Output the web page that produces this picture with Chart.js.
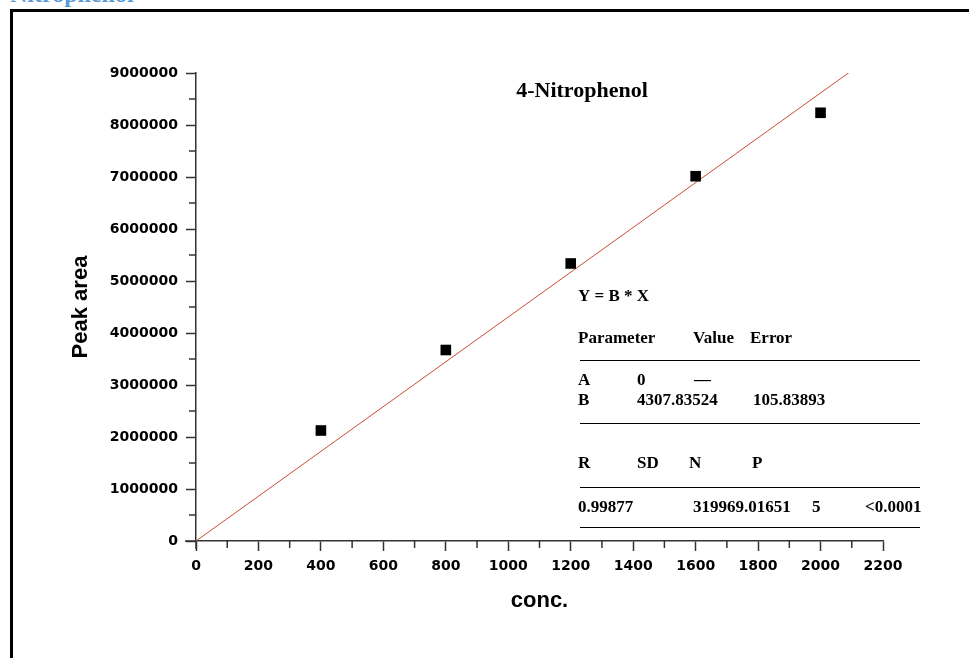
<!DOCTYPE html>
<html>
<head>
<meta charset="utf-8">
<script src="https://cdn.jsdelivr.net/npm/chart.js@4/dist/chart.umd.min.js"></script>
<style>
  html, body { margin: 0; padding: 0; background: #fff; overflow: hidden; }
  body { width: 969px; height: 658px; position: relative; }
  .frame { position: absolute; left: 10px; top: 9px; width: 980px; height: 680px; border: 3px solid #000; }
  .heading { position: absolute; left: 10px; top: -18px; font: bold 24px "Liberation Serif", serif; line-height: 24px; color: #5b9bd5; }
  canvas { position: absolute; left: 0; top: 0; }
</style>
</head>
<body>
<div class="frame"></div>
<div class="heading">Nitrophenol</div>
<canvas id="myChart" width="969" height="658"></canvas>
<script>
// measured points
const concs = [400, 800, 1200, 1600, 2000];
const peakAreas = [2125000, 3673000, 5337000, 7015000, 8235000];

// fit Y = B * X, drawn from 0 to 2100
const slopeB = 4307.83524;
const fitX = [0, 2100];

const xTicks = [0, 200, 400, 600, 800, 1000, 1200, 1400, 1600, 1800, 2000, 2200];
const yTicks = [0, 1000000, 2000000, 3000000, 4000000, 5000000, 6000000, 7000000, 8000000, 9000000];

const axisColor = '#333';
const tickFont = { family: 'DejaVu Sans', size: 14, weight: 'bold' };
const titleFont = { family: 'Liberation Sans', size: 22, weight: 'bold' };

// minor ticks + the little overshoot of the axis lines
const minorTicks = {
  id: 'minorTicks',
  afterDraw(chart) {
    const ctx = chart.ctx;
    const { left, bottom } = chart.chartArea;
    const x = chart.scales.x, y = chart.scales.y;
    ctx.save();
    ctx.strokeStyle = axisColor;
    ctx.lineWidth = 1.5;
    ctx.beginPath();
    for (let i = 0; i < yTicks.length - 1; i++) {
      const py = y.getPixelForValue((yTicks[i] + yTicks[i + 1]) / 2);
      ctx.moveTo(left - 7, py);
      ctx.lineTo(left, py);
    }
    for (let i = 0; i < xTicks.length - 1; i++) {
      const px = x.getPixelForValue((xTicks[i] + xTicks[i + 1]) / 2);
      ctx.moveTo(px, bottom);
      ctx.lineTo(px, bottom + 7);
    }
    ctx.moveTo(left - 11, bottom);
    ctx.lineTo(left, bottom);
    ctx.moveTo(left, bottom);
    ctx.lineTo(left, bottom + 8);
    ctx.stroke();
    ctx.restore();
  }
};

// title and the fit report box
const notes = {
  id: 'notes',
  afterDraw(chart) {
    const ctx = chart.ctx;
    ctx.save();
    ctx.fillStyle = '#000';
    ctx.textBaseline = 'alphabetic';
    ctx.textAlign = 'center';
    ctx.font = 'bold 22px "Liberation Serif"';
    ctx.fillText('4-Nitrophenol', 582, 97);

    ctx.textAlign = 'left';
    ctx.font = 'bold 17px "Liberation Serif"';
    const rows = [
      ['Y = B * X', 578, 301],
      ['Parameter', 578, 343], ['Value', 693, 343], ['Error', 750, 343],
      ['A', 578, 385], ['0', 637, 385], ['\u2014', 694, 385],
      ['B', 578, 405], [slopeB.toFixed(5), 637, 405], ['105.83893', 753, 405],
      ['R', 578, 468], ['SD', 637, 468], ['N', 689, 468], ['P', 752, 468],
      ['0.99877', 578, 512], ['319969.01651', 693, 512], ['5', 812, 512], ['<0.0001', 865, 512]
    ];
    rows.forEach(r => ctx.fillText(r[0], r[1], r[2]));

    ctx.strokeStyle = '#000';
    ctx.lineWidth = 1;
    [360, 423, 487, 527].forEach(ly => {
      ctx.beginPath();
      ctx.moveTo(580, ly + 0.5);
      ctx.lineTo(920, ly + 0.5);
      ctx.stroke();
    });
    ctx.restore();
  }
};

const config = {
  type: 'scatter',
  data: {
    datasets: [{
      label: 'Peak area',
      data: concs.map((c, i) => ({ x: c, y: peakAreas[i] })),
      pointStyle: 'rect',
      pointRadius: 7.5,
      backgroundColor: '#000',
      borderWidth: 0
    }, {
      label: 'Fit',
      data: fitX.map(c => ({ x: c, y: slopeB * c })),
      showLine: true,
      pointRadius: 0,
      borderColor: '#cc4b37',
      borderWidth: 1
    }]
  },
  options: {
    responsive: false,
    animation: false,
    layout: { padding: { left: 0, top: 73, right: 86, bottom: 0 } },
    plugins: { legend: { display: false }, tooltip: { enabled: false } },
    scales: {
      x: {
        type: 'linear', min: 0, max: 2200,
        afterFit(scale) { scale.height = 117; },
        afterBuildTicks(scale) { scale.ticks = xTicks.map(v => ({ value: v })); },
        ticks: { callback: v => String(v), font: tickFont, color: '#000', padding: 7, maxRotation: 0 },
        grid: { drawOnChartArea: false, tickLength: 10, tickColor: axisColor, tickWidth: 1.5 },
        border: { color: axisColor, width: 1.5 },
        title: { display: true, text: 'conc.', font: titleFont, color: '#000', padding: { top: 0, bottom: 44 } }
      },
      y: {
        type: 'linear', min: 0, max: 9000000,
        afterFit(scale) { scale.width = 196; },
        afterBuildTicks(scale) { scale.ticks = yTicks.map(v => ({ value: v })); },
        ticks: { callback: v => String(v), font: tickFont, color: '#000', padding: 8 },
        grid: { drawOnChartArea: false, tickLength: 10, tickColor: axisColor, tickWidth: 1.5 },
        border: { color: axisColor, width: 1.5 },
        title: { display: true, text: 'Peak area', font: titleFont, color: '#000', padding: { top: 68, bottom: 0 } }
      }
    }
  },
  plugins: [minorTicks, notes]
};

const myChart = new Chart(document.getElementById('myChart'), config);
</script>
</body>
</html>
